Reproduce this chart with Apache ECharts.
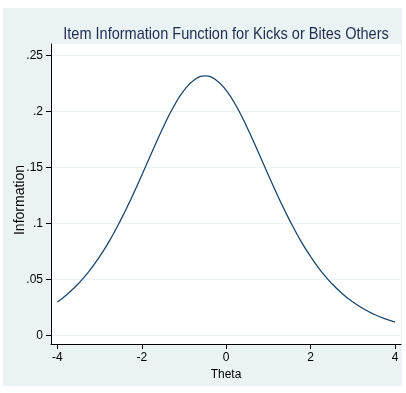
<!DOCTYPE html>
<html>
<head>
<meta charset="utf-8">
<script src="https://cdn.jsdelivr.net/npm/echarts@6/dist/echarts.min.js"></script>
<style>
html,body{margin:0;padding:0;background:#fff;}
#chart{width:406px;height:393px;}
</style>
</head>
<body>
<div id="chart"></div>
<script>
// Data
var theta = [-4,-3.75,-3.5,-3.25,-3,-2.75,-2.5,-2.25,-2,-1.75,-1.5,-1.25,-1,-0.75,-0.5,-0.25,0,0.25,0.5,0.75,1,1.25,1.5,1.75,2,2.25,2.5,2.75,3,3.25,3.5,3.75,4];
var information = [0.0298,0.0372,0.0463,0.0572,0.0703,0.0855,0.1030,0.1224,0.1432,0.1646,0.1854,0.2041,0.2189,0.2285,0.2319,0.2285,0.2189,0.2041,0.1854,0.1646,0.1432,0.1224,0.1030,0.0855,0.0703,0.0572,0.0463,0.0372,0.0298,0.0238,0.0189,0.0150,0.0119];
var xTicks = [-4,-2,0,2,4];
var yTicks = [0,0.05,0.1,0.15,0.2,0.25];
var yTickLabels = ['0','.05','.1','.15','.2','.25'];
var titleText = 'Item Information Function for Kicks or Bites Others';
var xTitle = 'Theta';
var yTitle = 'Information';

var chart = echarts.init(document.getElementById('chart'), null, {renderer:'canvas'});
var sans = '"Liberation Sans", Arial, sans-serif';
var pts = theta.map(function(t,i){return [t, information[i]];});

chart.setOption({
  animation:false,
  backgroundColor:'#ffffff',
  graphic:[
    {type:'rect', z:-10, shape:{x:3,y:8,width:399,height:378}, style:{fill:'#eaf2f3'}},
    {type:'text', z:10, x:20, y:200, rotation:Math.PI/2,
      style:{text:yTitle, fill:'#000', font:'14px ' + sans, align:'center', verticalAlign:'middle'}},
    {type:'text', z:10, x:226, y:34, scaleX:0.855,
      style:{text:titleText, fill:'#1e2d50', font:'17px ' + sans, align:'center', verticalAlign:'middle'}}
  ],
  grid:{left:51, right:5, top:44, bottom:49, show:true, backgroundColor:'#ffffff', borderWidth:0},
  xAxis:{
    type:'value', min:-4.15, max:4.14,
    name:xTitle, nameLocation:'middle', nameGap:24,
    nameTextStyle:{fontFamily:sans, fontSize:12, color:'#000'},
    axisLine:{show:true, onZero:false, lineStyle:{color:'#000', width:1}},
    axisTick:{show:true, length:5, customValues:xTicks, lineStyle:{color:'#000'}},
    axisLabel:{customValues:xTicks, fontFamily:sans, fontSize:12, color:'#000', margin:8},
    splitLine:{show:false}
  },
  yAxis:{
    type:'value', min:-0.0077, max:0.2604,
    axisLine:{show:true, onZero:false, lineStyle:{color:'#000', width:1}},
    axisTick:{show:true, length:5, customValues:yTicks, lineStyle:{color:'#000'}},
    axisLabel:{customValues:yTicks, fontFamily:sans, fontSize:12, color:'#000', margin:8,
      formatter:function(v){var i=yTicks.indexOf(v);return i>=0?yTickLabels[i]:'';}},
    splitLine:{show:true, lineStyle:{color:'#eaf2f3', width:1}}
  },
  series:[{
    type:'line', data:pts, smooth:true, showSymbol:false,
    lineStyle:{color:'#1a476f', width:1.3}
  }]
});
</script>
</body>
</html>
